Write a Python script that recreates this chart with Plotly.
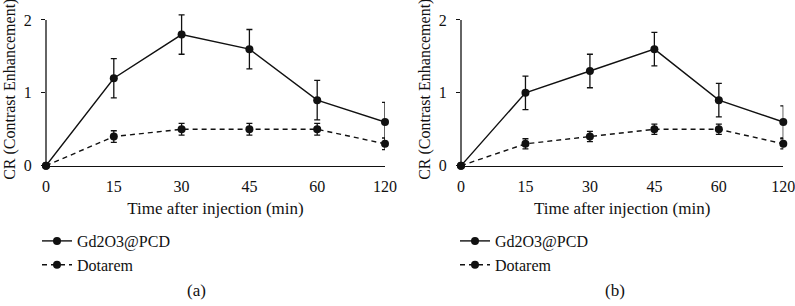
import plotly.graph_objects as go

time_labels = ["0", "15", "30", "45", "60", "120"]

gd_a = [0, 1.2, 1.8, 1.6, 0.9, 0.6]
gd_a_err = [0, 0.27, 0.27, 0.27, 0.27, 0.27]
dot_a = [0, 0.4, 0.5, 0.5, 0.5, 0.3]
dot_a_err = [0, 0.08, 0.08, 0.08, 0.08, 0.08]

gd_b = [0, 1.0, 1.3, 1.6, 0.9, 0.6]
gd_b_err = [0, 0.23, 0.23, 0.23, 0.23, 0.22]
dot_b = [0, 0.3, 0.4, 0.5, 0.5, 0.3]
dot_b_err = [0, 0.07, 0.07, 0.07, 0.07, 0.07]

y_ticks = [0, 1, 2]

FONT = "Liberation Serif"
INK = "#111111"

fig = go.Figure()


def add_series(y, err, name, dash, xa, ya, legend):
    fig.add_trace(go.Scatter(
        x=time_labels, y=y, name=name, mode="lines+markers",
        xaxis=xa, yaxis=ya, legend=legend, cliponaxis=False,
        line=dict(color=INK, width=1.4, dash=dash),
        marker=dict(color=INK, size=8, symbol="circle"),
        error_y=dict(type="data", array=err, visible=True, color=INK,
                     thickness=1.3, width=3),
    ))


add_series(gd_a, gd_a_err, "Gd2O3@PCD", "solid", "x", "y", "legend")
add_series(dot_a, dot_a_err, "Dotarem", "5px,4px", "x", "y", "legend")
add_series(gd_b, gd_b_err, "Gd2O3@PCD", "solid", "x2", "y2", "legend2")
add_series(dot_b, dot_b_err, "Dotarem", "5px,4px", "x2", "y2", "legend2")

W, H = 795, 306
Y_TOP = 2.1
px_per_unit = (165.7 - 20) / 2
ydom = [(H - 165.7) / H, (H - (165.7 - Y_TOP * px_per_unit)) / H]

xcommon = dict(type="category", range=[0, 5], showline=True, linecolor=INK,
               linewidth=1.3, ticks="", showgrid=False, zeroline=False,
               automargin=False,
               tickfont=dict(family=FONT, size=16, color=INK),
               ticklabelstandoff=6,
               title=dict(text="Time after injection (min)",
                          font=dict(family=FONT, size=17, color=INK),
                          standoff=8))
ycommon = dict(range=[0, Y_TOP], tickvals=y_ticks, showline=False,
               ticks="outside", ticklen=4, tickcolor=INK,
               tickwidth=1.2, showgrid=False, zeroline=False,
               automargin=False,
               tickfont=dict(family=FONT, size=16, color=INK),
               ticklabelstandoff=6,
               title=dict(text="CR (Contrast Enhancement)",
                          font=dict(family=FONT, size=16, color=INK),
                          standoff=4))

cap_font = dict(family=FONT, size=17, color=INK)

# y-axis spines drawn only up to the top tick (2), like the original
shapes = [
    dict(type="line", xref="x domain", yref="y", x0=0, x1=0,
         y0=y_ticks[0], y1=y_ticks[-1], line=dict(color=INK, width=1.3), layer="below"),
    dict(type="line", xref="x2 domain", yref="y2", x0=0, x1=0,
         y0=y_ticks[0], y1=y_ticks[-1], line=dict(color=INK, width=1.3), layer="below"),
]

fig.update_layout(
    width=W, height=H,
    margin=dict(l=0, r=0, t=0, b=0, pad=0, autoexpand=False),
    font=dict(family=FONT, size=16, color=INK),
    paper_bgcolor="white", plot_bgcolor="white",
    showlegend=True,
    xaxis=dict(domain=[46 / W, 385 / W], anchor="y", **xcommon),
    yaxis=dict(domain=ydom, anchor="x", **ycommon),
    xaxis2=dict(domain=[461 / W, 783.3 / W], anchor="y2", **xcommon),
    yaxis2=dict(domain=ydom, anchor="x2", **ycommon),
    shapes=shapes,
    legend=dict(x=(57 - 20) / W, y=(H - 224) / H, xanchor="left", yanchor="top",
                bgcolor="rgba(0,0,0,0)", font=dict(family=FONT, size=16, color=INK)),
    legend2=dict(x=(475 - 20) / W, y=(H - 224) / H, xanchor="left", yanchor="top",
                 bgcolor="rgba(0,0,0,0)", font=dict(family=FONT, size=16, color=INK)),
    annotations=[
        dict(text="(a)", x=196 / W, y=(H - 290) / H, xref="paper", yref="paper",
             xanchor="center", yanchor="middle", showarrow=False, font=cap_font),
        dict(text="(b)", x=615 / W, y=(H - 290) / H, xref="paper", yref="paper",
             xanchor="center", yanchor="middle", showarrow=False, font=cap_font),
    ],
)

fig.write_html("out.html",
               config={"displayModeBar": False},
               post_script="document.body.style.margin='0';document.body.style.overflow='hidden';")
